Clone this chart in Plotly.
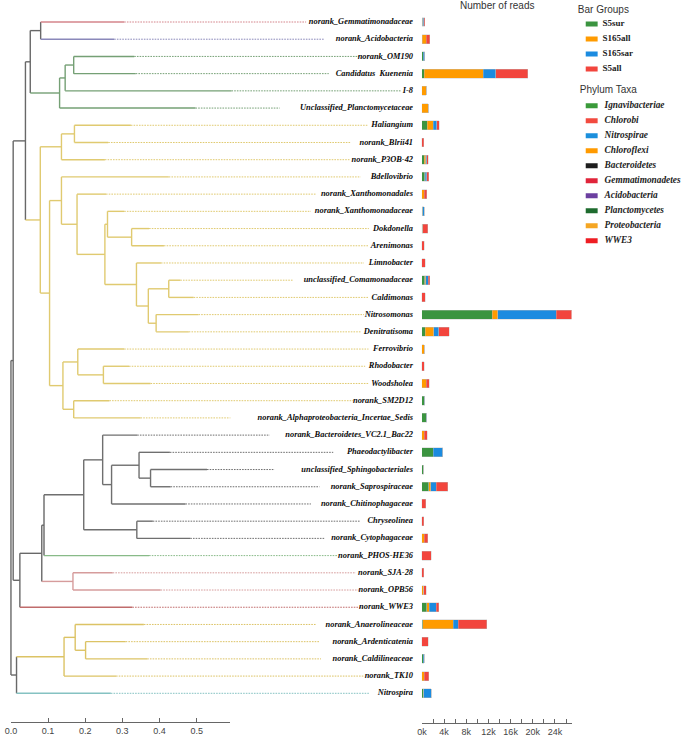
import plotly.graph_objects as go

W, H = 685, 737

# ---------------- data ----------------
leaf_names = [
    "norank_Gemmatimonadaceae", "norank_Acidobacteria", "norank_OM190", "Candidatus  Kuenenia", "I-8",
    "Unclassified_Planctomycetaceae", "Haliangium", "norank_Blrii41", "norank_P3OB-42", "Bdellovibrio",
    "norank_Xanthomonadales", "norank_Xanthomonadaceae", "Dokdonella", "Arenimonas", "Limnobacter",
    "unclassified_Comamonadaceae", "Caldimonas", "Nitrosomonas", "Denitratisoma", "Ferrovibrio",
    "Rhodobacter", "Woodsholea", "norank_SM2D12", "norank_Alphaproteobacteria_Incertae_Sedis",
    "norank_Bacteroidetes_VC2.1_Bac22", "Phaeodactylibacter", "unclassified_Sphingobacteriales",
    "norank_Saprospiraceae", "norank_Chitinophagaceae", "Chryseolinea", "norank_Cytophagaceae",
    "norank_PHOS-HE36", "norank_SJA-28", "norank_OPB56", "norank_WWE3", "norank_Anaerolineaceae",
    "norank_Ardenticatenia", "norank_Caldilineaceae", "norank_TK10", "Nitrospira",
]

leaf_clades = (
    ["Gemmatimonadetes", "Acidobacteria"] + ["Planctomycetes"] * 4 + ["Proteobacteria"] * 18
    + ["Bacteroidetes"] * 7 + ["Ignavibacteriae"] + ["Chlorobi"] * 2 + ["WWE3"]
    + ["Chloroflexi"] * 4 + ["Nitrospirae"]
)

# branch tip (distance from root) of each leaf
tip_dist = [0.305, 0.278, 0.332, 0.336, 0.594, 0.497, 0.323, 0.262, 0.253, 0.425,
            0.256, 0.305, 0.372, 0.412, 0.404, 0.456, 0.492, 0.505, 0.479, 0.305,
            0.318, 0.376, 0.265, 0.349, 0.340, 0.428, 0.528, 0.430, 0.470, 0.382,
            0.483, 0.372, 0.274, 0.403, 0.327, 0.358, 0.309, 0.367, 0.283, 0.269]

# end of the dotted guide line of each leaf
guide_end = [0.795, 0.844, 0.938, 0.856, 1.052, 0.724, 0.960, 0.915, 0.912, 0.942,
             0.822, 0.808, 0.964, 0.964, 0.951, 0.759, 0.964, 0.951, 0.942, 0.963,
             0.954, 0.964, 0.924, 0.591, 0.697, 0.868, 0.710, 0.831, 0.808, 0.939,
             0.844, 0.880, 0.929, 0.938, 0.947, 0.822, 0.831, 0.835, 0.951, 0.964]

# tree topology: (node distance, [children]); ints are leaf indices
tree = (0.0, [
    (0.006, [
        (0.039, [
            (0.052, [
                (0.080, [0, 1]),
                (0.131, [(0.146, [(0.169, [2, 3]), 4]), 5]),
            ]),
            (0.079, [
                (0.136, [(0.171, [6, 7]), 8]),
                (0.104, [
                    (0.136, [
                        9,
                        (0.178, [
                            10,
                            (0.253, [
                                (0.260, [11, (0.325, [12, 13])]),
                                (0.338, [14, (0.370, [(0.425, [15, 16]), (0.391, [17, 18])])]),
                            ]),
                        ]),
                    ]),
                    (0.140, [
                        (0.180, [19, (0.249, [20, 21])]),
                        (0.169, [22, 23]),
                    ]),
                ]),
            ]),
        ]),
        (0.024, [
            (0.083, [
                (0.089, [
                    (0.196, [
                        (0.247, [24, (0.271, [(0.345, [25, (0.376, [26, 27])]), 28])]),
                        (0.339, [29, 30]),
                    ]),
                    31,
                ]),
                (0.167, [32, 33]),
            ]),
            34,
        ]),
    ]),
    (0.015, [
        (0.143, [(0.173, [35, (0.201, [36, 37])]), 38]),
        39,
    ]),
])

# stacked read counts per bar group
bar_groups = ["S5sur", "S165all", "S165sar", "S5all"]
s5sur = [150, 50, 200, 400, 0, 0, 950, 0, 400, 500,
         0, 150, 0, 0, 0, 500, 0, 12700, 600, 0,
         0, 0, 450, 750, 0, 2000, 300, 1250, 0, 0,
         0, 0, 0, 0, 900, 180, 0, 250, 0, 300]
s165all = [0, 700, 0, 10700, 800, 1150, 1050, 0, 250, 100,
           400, 0, 150, 0, 0, 200, 0, 950, 1550, 400,
           0, 800, 0, 0, 450, 50, 0, 350, 0, 0,
           400, 0, 0, 350, 450, 5500, 0, 0, 400, 0]
s165sar = [150, 0, 300, 2250, 0, 0, 700, 0, 200, 300,
           0, 300, 0, 0, 0, 400, 0, 10600, 850, 0,
           0, 0, 100, 150, 0, 1700, 0, 950, 0, 0,
           0, 0, 0, 0, 1250, 900, 0, 150, 0, 1350]
s5all = [250, 650, 0, 5750, 0, 0, 450, 300, 300, 300,
         500, 0, 900, 450, 600, 350, 600, 2800, 1950, 0,
         400, 500, 0, 0, 500, 0, 0, 2150, 700, 350,
         650, 1650, 350, 400, 400, 5070, 1100, 0, 850, 0]
bar_series = [s5sur, s165all, s165sar, s5all]
bar_colors = ["#3b9440", "#ff9b00", "#1b8be0", "#f2453d"]

phylum_names = ["Ignavibacteriae", "Chlorobi", "Nitrospirae", "Chloroflexi", "Bacteroidetes",
                "Gemmatimonadetes", "Acidobacteria", "Planctomycetes", "Proteobacteria", "WWE3"]
phylum_colors = ["#3a9a3a", "#f24a3f", "#1b8fdc", "#ff9a00", "#1e1e1e",
                 "#e0243a", "#6b3fa0", "#1e6b2e", "#f5a623", "#ee1d23"]

scale_ticks = [0.0, 0.1, 0.2, 0.3, 0.4, 0.5]
read_ticks = [0, 4000, 8000, 12000, 16000, 20000, 24000]
read_tick_labels = ["0k", "4k", "8k", "12k", "16k", "20k", "24k"]

# ---------------- styles ----------------
clade_line = {
    "Gemmatimonadetes": "#d4848b", "Acidobacteria": "#8a88ba", "Planctomycetes": "#75a075",
    "Proteobacteria": "#e0ca70", "Bacteroidetes": "#6f6f6f", "Ignavibacteriae": "#88ba88",
    "Chlorobi": "#d69c9c", "WWE3": "#c06c6c", "Chloroflexi": "#dcc365", "Nitrospirae": "#85c2c2",
}
BACKBONE = "#686868"
SERIF = "Liberation Serif"
SANS = "Liberation Sans"

# ---------------- tree geometry ----------------
def is_leaf(n):
    return isinstance(n, int)

def node_dist(n):
    return tip_dist[n] if is_leaf(n) else n[0]

def node_pos(n):
    if is_leaf(n):
        return float(n)
    ys = [node_pos(c) for c in n[1]]
    return sum(ys) / len(ys)

def node_leaves(n):
    if is_leaf(n):
        return [n]
    out = []
    for c in n[1]:
        out += node_leaves(c)
    return out

def node_color(n):
    cl = {leaf_clades[i] for i in node_leaves(n)}
    return clade_line[cl.pop()] if len(cl) == 1 else BACKBONE

segs = {}

def add(key, x0, y0, x1, y1):
    xs, ys = segs.setdefault(key, ([], []))
    xs += [x0, x1, None]
    ys += [y0, y1, None]

def walk(n):
    if is_leaf(n):
        return
    x = n[0]
    cy = [node_pos(c) for c in n[1]]
    add((node_color(n), "solid"), x, min(cy), x, max(cy))
    for c, y in zip(n[1], cy):
        add((node_color(c), "solid"), x, y, node_dist(c), y)
        walk(c)

walk(tree)
for i in range(len(leaf_names)):
    add((clade_line[leaf_clades[i]], "dot"), tip_dist[i], i, guide_end[i], i)

fig = go.Figure()

# dotted guides first, then solid branches
for (col, style), (xs, ys) in sorted(segs.items(), key=lambda kv: kv[0][1] == "solid"):
    if style == "dot":
        line = dict(color=col, width=1.0, dash="1.6px,1.1px")
    else:
        line = dict(color=col, width=1.4)
    fig.add_trace(go.Scatter(x=xs, y=ys, mode="lines", line=line, hoverinfo="skip",
                             showlegend=False, xaxis="x", yaxis="y"))

# leaf labels
LABEL_X = 1.083
fig.add_trace(go.Scatter(
    x=[LABEL_X] * len(leaf_names), y=list(range(len(leaf_names))), mode="text",
    text=leaf_names, textposition="middle left",
    textfont=dict(family=SERIF, size=8.4, color="#0a0a0a", weight="bold", style="italic"),
    hoverinfo="skip", showlegend=False, cliponaxis=False, xaxis="x", yaxis="y"))

# stacked bars
for name, vals, col in zip(bar_groups, bar_series, bar_colors):
    fig.add_trace(go.Bar(
        x=vals, y=list(range(len(leaf_names))), orientation="h", name=name,
        marker=dict(color=col, line=dict(color="rgba(190,190,190,0.8)", width=0.5)),
        width=0.52, showlegend=False, xaxis="x2", yaxis="y"))

# invisible trace carrying the tree scale axis
fig.add_trace(go.Scatter(x=[0], y=[0], mode="markers", marker=dict(opacity=0),
                         hoverinfo="skip", showlegend=False, xaxis="x3", yaxis="y"))

# legend panel (pixel-scaled helper axes)
LEG_MARK_X0, LEG_MARK_X1, LEG_TEXT_X = 585, 597, 602
group_y = [24 + 15 * i for i in range(len(bar_groups))]
phylum_y = [105.7 + 15 * i for i in range(len(phylum_names))]

for y, col in list(zip(group_y, bar_colors)) + list(zip(phylum_y, phylum_colors)):
    fig.add_trace(go.Scatter(x=[LEG_MARK_X0, LEG_MARK_X1], y=[y, y], mode="lines",
                             line=dict(color=col, width=5), hoverinfo="skip",
                             showlegend=False, xaxis="x4", yaxis="y4"))

fig.add_trace(go.Scatter(
    x=[LEG_TEXT_X] * len(bar_groups), y=group_y, mode="text", text=bar_groups,
    textposition="middle right",
    textfont=dict(family=SERIF, size=9, color="#222222", weight="bold"),
    hoverinfo="skip", showlegend=False, cliponaxis=False, xaxis="x4", yaxis="y4"))
fig.add_trace(go.Scatter(
    x=[LEG_TEXT_X + 2] * len(phylum_names), y=phylum_y, mode="text", text=phylum_names,
    textposition="middle right",
    textfont=dict(family=SERIF, size=9.3, color="#222222", weight="bold", style="italic"),
    hoverinfo="skip", showlegend=False, cliponaxis=False, xaxis="x4", yaxis="y4"))
fig.add_trace(go.Scatter(
    x=[577, 579], y=[10, 90], mode="text", text=["Bar Groups", "Phylum Taxa"],
    textposition="middle right", textfont=dict(family=SANS, size=10, color="#333333"),
    hoverinfo="skip", showlegend=False, cliponaxis=False, xaxis="x4", yaxis="y4"))

# ---------------- layout ----------------
PX_PER_UNIT = 374.0
ROW0, ROW_STEP = 22.0, 17.213

axis_common = dict(showline=True, linecolor="#666666", linewidth=1, ticks="inside",
                   ticklen=4, tickcolor="#666666", showgrid=False, zeroline=False,
                   tickfont=dict(family=SANS, size=9, color="#444444"))

fig.update_layout(
    width=W, height=H, margin=dict(l=0, r=0, t=0, b=0),
    paper_bgcolor="white", plot_bgcolor="rgba(0,0,0,0)", barmode="stack", bargap=0,
    showlegend=False,
    xaxis=dict(domain=[0, 430 / W], range=[-6 / PX_PER_UNIT, 424 / PX_PER_UNIT],
               visible=False, fixedrange=True),
    yaxis=dict(domain=[0, 1], range=[(H - ROW0) / ROW_STEP, -ROW0 / ROW_STEP],
               visible=False, fixedrange=True),
    xaxis2=dict(domain=[420 / W, 570.75 / W], range=[0, 27000], anchor="free",
                position=(H - 722.7) / H, tickvals=read_ticks, ticktext=read_tick_labels,
                minor=dict(tickvals=[2000, 6000, 10000, 14000, 18000, 22000, 26000, 27000],
                           ticks="inside", ticklen=4, tickcolor="#666666", showgrid=False),
                **axis_common),
    xaxis3=dict(domain=[6 / W, 226.7 / W], range=[0, 0.59], anchor="free",
                position=(H - 721.7) / H, tickvals=scale_ticks,
                ticktext=["%.1f" % v for v in scale_ticks],
                minor=dict(tickvals=[0.59], ticks="inside", ticklen=4,
                           tickcolor="#666666", showgrid=False),
                **axis_common),
    xaxis4=dict(domain=[575 / W, 1], range=[575, 685], visible=False, fixedrange=True),
    yaxis4=dict(domain=[0, 1], range=[H, 0], visible=False, anchor="x4", fixedrange=True),
    annotations=[dict(text="Number of reads", xref="x2 domain", x=0.5, yref="paper",
                      y=1 - 6 / H, showarrow=False, xanchor="center", yanchor="middle",
                      font=dict(family=SANS, size=10, color="#333333"))],
)

fig.write_html("out.html", config={"displayModeBar": False, "staticPlot": True},
               post_script="document.body.style.margin='0';document.body.style.overflow='hidden';")
